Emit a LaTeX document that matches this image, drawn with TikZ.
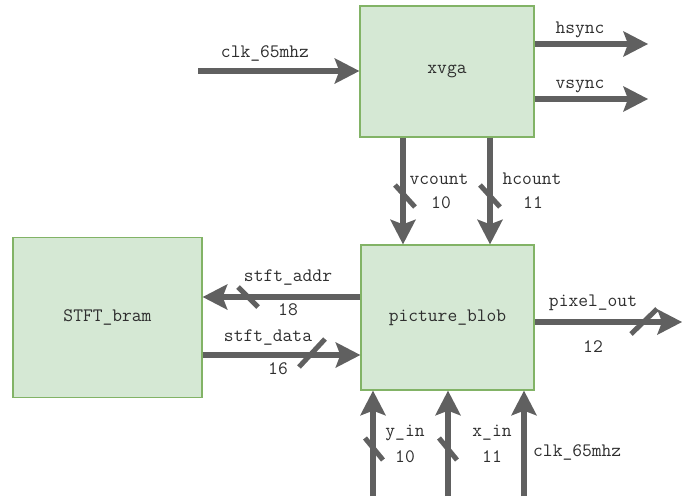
\documentclass[tikz,border=0pt]{standalone}
\usetikzlibrary{arrows.meta,calc}
\definecolor{blockfill}{HTML}{D5E8D4}
\definecolor{blockline}{HTML}{82B366}
\definecolor{busgray}{HTML}{606060}
\definecolor{labeltext}{HTML}{2E2E2E}
\tikzset{
  block/.style={draw=blockline, fill=blockfill, line width=1.4pt,
    minimum width=#1, inner sep=0pt, font=\ttfamily\fontsize{19}{21}\selectfont,
    text=labeltext},
  bus/.style={draw=busgray, line width=5.5pt,
    -{Stealth[length=25pt,width=26pt,inset=5pt,line width=0pt]}},
  buswidth/.style={draw=busgray, line width=5pt},
  sig/.style={font=\ttfamily\fontsize{19}{21}\selectfont, text=labeltext, inner sep=0pt}
}
\begin{document}
\begin{tikzpicture}[x=1pt, y=-1pt]
\useasboundingbox (0,0) rectangle (682,496);

% module blocks
\node[block=174pt, minimum height=131pt] (xvga) at (447,71.5) {xvga};
\node[block=173pt, minimum height=145pt] (pb) at (447.5,317.5) {picture\_blob};
\node[block=189pt, minimum height=160pt] (bram) at (107.5,317.5) {STFT\_bram};

% free ends of the external signals
\coordinate (clkin) at (198,71);
\coordinate (hs) at (648,44);
\coordinate (vs) at (648,99);
\coordinate (pix) at (682,322);
\coordinate (yin) at (373,496);
\coordinate (xin) at (448,496);
\coordinate (clkb) at (524,496);

% xvga connections
\draw[bus] (clkin) -- (clkin -| xvga.west);
\draw[bus] (hs -| xvga.east) -- (hs);
\draw[bus] (vs -| xvga.east) -- (vs);
\draw[bus] ([xshift=-44pt]xvga.south) -- ([xshift=-44pt]xvga.south |- pb.north);
\draw[bus] ([xshift=43pt]xvga.south) -- ([xshift=43pt]xvga.south |- pb.north);

% picture_blob <-> STFT_bram
\draw[bus] ([yshift=20.5pt]pb.west) -- ([yshift=20.5pt]pb.west -| bram.east);
\draw[bus] ([yshift=-37.5pt]bram.east |- pb.west) -- ([yshift=-37.5pt]pb.west);

% picture_blob outputs and inputs
\draw[bus] (pix -| pb.east) -- (pix);
\draw[bus] (yin) -- (yin |- pb.south);
\draw[bus] (xin) -- (xin |- pb.south);
\draw[bus] (clkb) -- (clkb |- pb.south);

% bus width marks
\draw[buswidth] (395,185) -- (415,207);
\draw[buswidth] (480,185) -- (500,207);
\draw[buswidth] (238,287) -- (258,307);
\draw[buswidth] (299,367) -- (325,339);
\draw[buswidth] (631,334) -- (657,309);
\draw[buswidth] (365,438) -- (383,460);
\draw[buswidth] (439,438) -- (457,460);

% signal names and widths
\node[sig] (lclk) at (265,53) {clk\_65mhz};
\node[sig] (lhs) at (580,30) {hsync};
\node[sig] (lvs) at (580,86) {vsync};
\node[sig] (lvc) at (439,179) {vcount};
\node[sig] (wvc) at (441,203) {10};
\node[sig] (lhc) at (532,179) {hcount};
\node[sig] (whc) at (533,203) {11};
\node[sig] (laddr) at (288,278) {stft\_addr};
\node[sig] (waddr) at (288,310) {18};
\node[sig] (ldata) at (268,338) {stft\_data};
\node[sig] (wdata) at (278,369) {16};
\node[sig] (lpix) at (593,303) {pixel\_out};
\node[sig] (wpix) at (593,347) {12};
\node[sig] (lyin) at (405,433) {y\_in};
\node[sig] (wyin) at (405,457) {10};
\node[sig] (lxin) at (492,433) {x\_in};
\node[sig] (wxin) at (492,457) {11};
\node[sig, anchor=west] (lclkb) at (533,452) {clk\_65mhz};
\end{tikzpicture}
\end{document}
